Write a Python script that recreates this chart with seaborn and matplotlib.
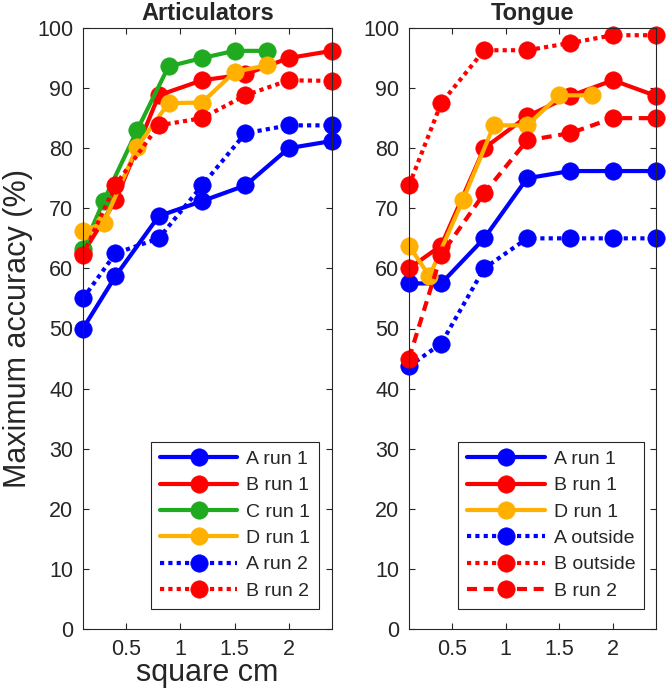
import matplotlib
matplotlib.use("Agg")
import matplotlib.pyplot as plt
import seaborn as sns

# x positions (square cm)
x_ab = [0.1, 0.4, 0.8, 1.2, 1.6, 2.0, 2.4]
x_cd = [0.1, 0.29, 0.6, 0.89, 1.2, 1.5, 1.8]

# Articulators panel
art_a1 = [50.0, 58.7, 68.7, 71.2, 73.8, 80.0, 81.2]
art_b1 = [62.5, 71.3, 88.8, 91.3, 92.3, 95.0, 96.2]
art_c1 = [63.3, 71.2, 83.0, 93.6, 95.0, 96.2, 96.2]
art_d1 = [66.3, 67.5, 80.2, 87.5, 87.6, 92.7, 93.8]
art_a2 = [55.0, 62.5, 65.0, 73.8, 82.5, 83.8, 83.8]
art_b2 = [62.3, 73.9, 83.8, 85.0, 88.8, 91.3, 91.2]

# Tongue panel
ton_a1 = [57.5, 57.5, 65.0, 75.0, 76.2, 76.2, 76.2]
ton_b1 = [60.0, 63.8, 80.0, 85.3, 88.7, 91.3, 88.7]
ton_d1 = [63.8, 58.7, 71.3, 83.8, 83.8, 88.8, 88.8]
ton_ao = [43.7, 47.5, 60.0, 65.0, 65.0, 65.0, 65.0]
ton_bo = [73.8, 87.5, 96.3, 96.3, 97.5, 98.8, 98.8]
ton_b2 = [45.0, 62.3, 72.5, 81.3, 82.5, 85.0, 85.0]

xticks = [0.5, 1, 1.5, 2]
xticklabels = ["0.5", "1", "1.5", "2"]
yticks = list(range(0, 101, 10))

BLUE, RED, GREEN, ORANGE = "#0000ff", "#ff0000", "#1faa1f", "#ffb000"
SOLID, DOTTED, DASHED = "-", (0, (1, 1)), (0, (2.4, 1.6))

sns.set_style("ticks")
plt.rcParams["font.family"] = ["Liberation Sans", "DejaVu Sans"]
INK = "#262626"

fig = plt.figure(figsize=(6.66, 6.99), dpi=100)
ax1 = fig.add_axes([83 / 666, 70 / 699, 249 / 666, 601 / 699])
ax2 = fig.add_axes([409 / 666, 70 / 699, 247 / 666, 601 / 699])

panels = [
    (ax1, "Articulators", [
        (x_ab, art_a1, BLUE, SOLID, "A run 1"),
        (x_ab, art_b1, RED, SOLID, "B run 1"),
        (x_cd, art_c1, GREEN, SOLID, "C run 1"),
        (x_cd, art_d1, ORANGE, SOLID, "D run 1"),
        (x_ab, art_a2, BLUE, DOTTED, "A run 2"),
        (x_ab, art_b2, RED, DOTTED, "B run 2"),
    ], 0.948),
    (ax2, "Tongue", [
        (x_ab, ton_a1, BLUE, SOLID, "A run 1"),
        (x_ab, ton_b1, RED, SOLID, "B run 1"),
        (x_cd, ton_d1, ORANGE, SOLID, "D run 1"),
        (x_ab, ton_ao, BLUE, DOTTED, "A outside"),
        (x_ab, ton_bo, RED, DOTTED, "B outside"),
        (x_ab, ton_b2, RED, DASHED, "B run 2"),
    ], 0.951),
]

for ax, title, series, lx in panels:
    for xs, ys, col, ls, lab in series:
        sns.lineplot(x=xs, y=ys, ax=ax, color=col, linestyle=ls, linewidth=3,
                     marker="o", markersize=12.5, markeredgecolor=col,
                     markeredgewidth=0.5, label=lab, clip_on=False)
    ax.set_xlim(0.1, 2.4)
    ax.set_ylim(0, 100)
    ax.set_xticks(xticks)
    ax.set_xticklabels(xticklabels)
    ax.set_yticks(yticks)
    ax.tick_params(direction="in", length=4.5, width=0.8, colors=INK,
                   labelsize=15.5, top=True, right=True, pad=7)
    for sp in ax.spines.values():
        sp.set_visible(True)
        sp.set_color(INK)
        sp.set_linewidth(0.8)
    ax.set_title(title, fontsize=17, fontweight="bold", pad=6)
    leg = ax.legend(loc="lower right", bbox_to_anchor=(lx, 0.034),
                    borderaxespad=0, fontsize=14, handlelength=4.0,
                    labelspacing=0.45, handletextpad=0.45, borderpad=0.45,
                    fancybox=False, framealpha=1, edgecolor=INK)
    leg.get_frame().set_linewidth(0.8)

ax1.set_xlabel("square cm", fontsize=22, color=INK, labelpad=-1)
ax1.set_ylabel("Maximum accuracy (%)", fontsize=22, color=INK, labelpad=3)
ax2.set_xlabel("")
ax2.set_ylabel("")

fig.savefig("out.png", dpi=100)
